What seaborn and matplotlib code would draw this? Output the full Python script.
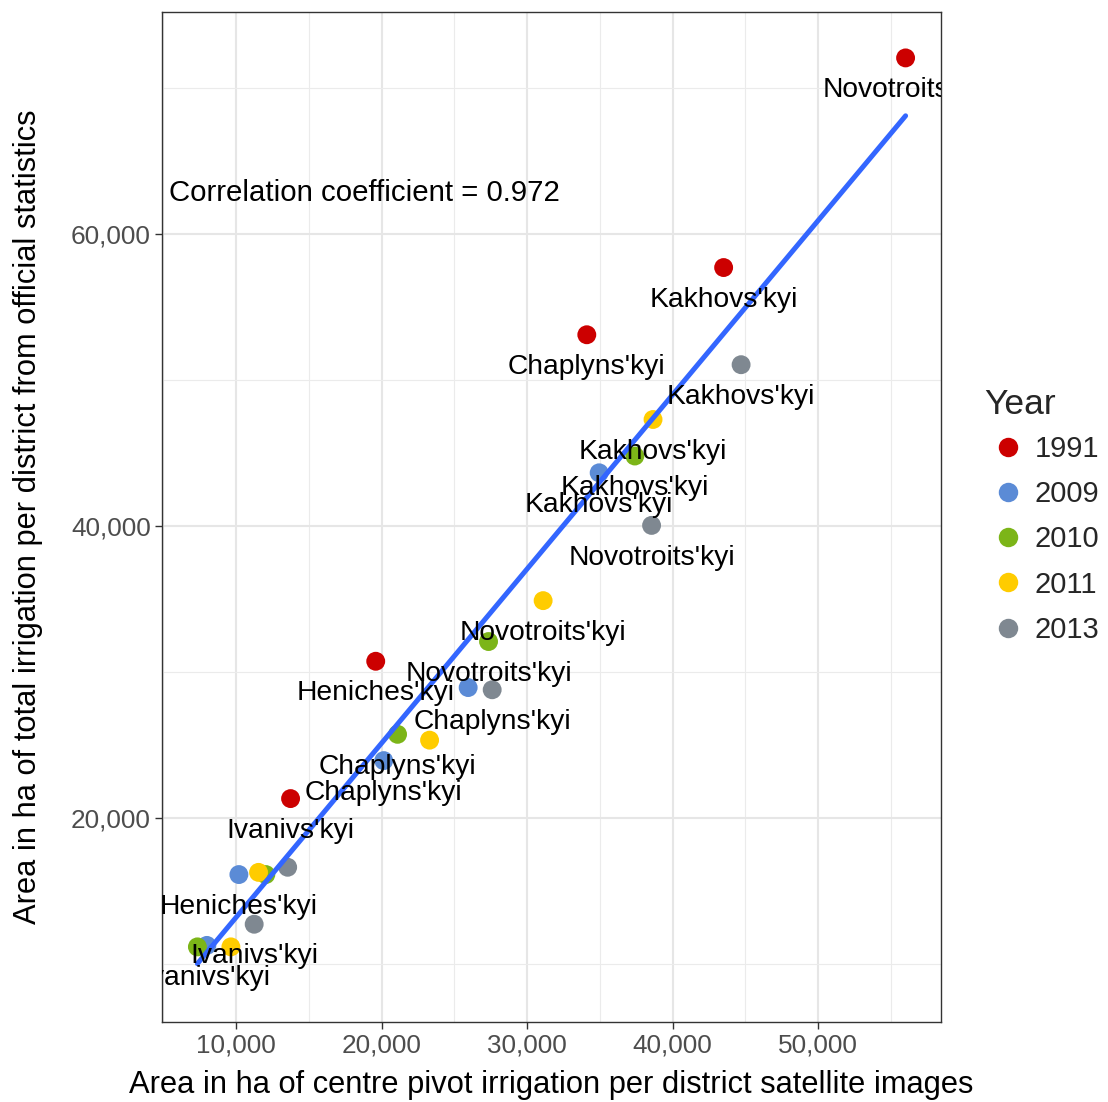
import matplotlib
matplotlib.use("Agg")
import matplotlib.pyplot as plt
import matplotlib.transforms as mtransforms
from matplotlib.ticker import MultipleLocator, StrMethodFormatter
import pandas as pd
import seaborn as sns

# --- data (district-major order, as in the source table) ---
districts = ["Chaplyns'kyi"] * 5 + ["Heniches'kyi"] * 5 + ["Ivanivs'kyi"] * 5 + \
            ["Kakhovs'kyi"] * 5 + ["Novotroits'kyi"] * 5
years = ["1991", "2009", "2010", "2011", "2013"] * 5
satellite_ha = [34100, 20150, 21100, 23300, 27600,
                19600, 10200, 12050, 11550, 13550,
                13750, 8000, 7350, 9650, 11250,
                43500, 34950, 37400, 38650, 44700,
                56000, 25950, 27350, 31100, 38550]
official_ha = [53100, 23950, 25750, 25350, 28800,
               30750, 16150, 16150, 16300, 16650,
               21350, 11300, 11200, 11200, 12750,
               57700, 43650, 44800, 47300, 51050,
               72050, 28950, 32100, 34900, 40050]

year_levels = ["1991", "2009", "2010", "2011", "2013"]
year_colours = ["#CC0000", "#5B8BD6", "#7CB518", "#FFCC00", "#7F8891"]
corr_label = "Correlation coefficient = 0.972"
label_nudge = -2000

df = pd.DataFrame({"District": districts, "Year": years,
                   "satellite": satellite_ha, "official": official_ha})

sns.set_theme(style="whitegrid")
plt.rcParams["font.family"] = ["Liberation Sans", "DejaVu Sans"]

fig = plt.figure(figsize=(11.08, 11.02), dpi=100)
ax = fig.add_axes([162 / 1108, 1 - 1022 / 1102, (941 - 162) / 1108, (1022 - 12) / 1102])

sns.scatterplot(data=df, x="satellite", y="official", hue="Year", hue_order=year_levels,
                palette=year_colours, s=185, linewidth=0, ax=ax)
sns.regplot(data=df, x="satellite", y="official", scatter=False, ci=None,
            color="#3366FF", line_kws={"linewidth": 3.6}, ax=ax)

# ggplot-style limits: data (incl. nudged labels) + 5% each side
xmin, xmax = df["satellite"].min(), df["satellite"].max()
ymin = min(df["official"].min() + label_nudge, df["official"].min())
ymax = df["official"].max()
ax.set_xlim(xmin - 0.05 * (xmax - xmin), xmax + 0.05 * (xmax - xmin))
ax.set_ylim(ymin - 0.05 * (ymax - ymin), ymax + 0.05 * (ymax - ymin))

ax.xaxis.set_major_locator(MultipleLocator(10000))
ax.xaxis.set_minor_locator(MultipleLocator(5000))
ax.yaxis.set_major_locator(MultipleLocator(20000))
ax.yaxis.set_minor_locator(MultipleLocator(10000))
ax.xaxis.set_major_formatter(StrMethodFormatter("{x:,.0f}"))
ax.yaxis.set_major_formatter(StrMethodFormatter("{x:,.0f}"))
ax.grid(which="major", color="#E6E6E6", linewidth=1.5)
ax.grid(which="minor", color="#EBEBEB", linewidth=0.8)
ax.set_axisbelow(True)
ax.tick_params(which="major", direction="out", length=5, width=1, color="#333333",
               labelsize=18.8, labelcolor="#4D4D4D", pad=3, bottom=True, left=True)
ax.tick_params(which="minor", length=0)
for s in ax.spines.values():
    s.set_color("#333333")
    s.set_linewidth(1.0)

ax.set_xlabel("Area in ha of centre pivot irrigation per district satellite images",
              fontsize=22.2, color="black")
ax.set_ylabel("Area in ha of total irrigation per district from official statistics",
              fontsize=22.2, color="black")
ax.xaxis.set_label_coords(0.5, -(1085 - 1022) / 1010)
ax.xaxis.label.set_va("center")
ax.yaxis.set_label_coords(-(162 - 28) / 779, 0.5)
ax.yaxis.label.set_va("center")

ax.text(18800, 62800, corr_label, ha="center", va="center", fontsize=21.2, color="black")

# legend outside on the right (title drawn separately to match ggplot spacing)
handles, labels = ax.get_legend_handles_labels()
ax.legend_.remove()
for h in handles:
    h.set_markersize(14)
fig.text(984 / 1108, 1 - 404 / 1102, "Year", ha="left", va="center", fontsize=25.5)
leg = fig.legend(handles, labels, loc="upper left",
                 bbox_to_anchor=(985 / 1108, 1 - 435 / 1102), frameon=False,
                 fontsize=21, handlelength=1.6, handletextpad=0.1,
                 labelspacing=0.59, borderpad=0, borderaxespad=0)

# text labels with ggplot-like check_overlap
label_trans = mtransforms.offset_copy(ax.transData, fig=fig, x=0, y=-3, units="dots")
fig.canvas.draw()
renderer = fig.canvas.get_renderer()
kept = []
for _, row in df.iterrows():
    t = ax.text(row["satellite"], row["official"] + label_nudge, row["District"],
                ha="center", va="center", fontsize=20.3, color="black",
                transform=label_trans, clip_on=True, zorder=5)
    bb = t.get_window_extent(renderer)
    cy = (bb.y0 + bb.y1) / 2
    half = bb.height * 0.2
    box = (bb.x0, cy - half, bb.x1, cy + half)
    if any(box[0] < k[2] and k[0] < box[2] and box[1] < k[3] and k[1] < box[3] for k in kept):
        t.remove()
    else:
        kept.append(box)

fig.savefig("out.png", dpi=100)
